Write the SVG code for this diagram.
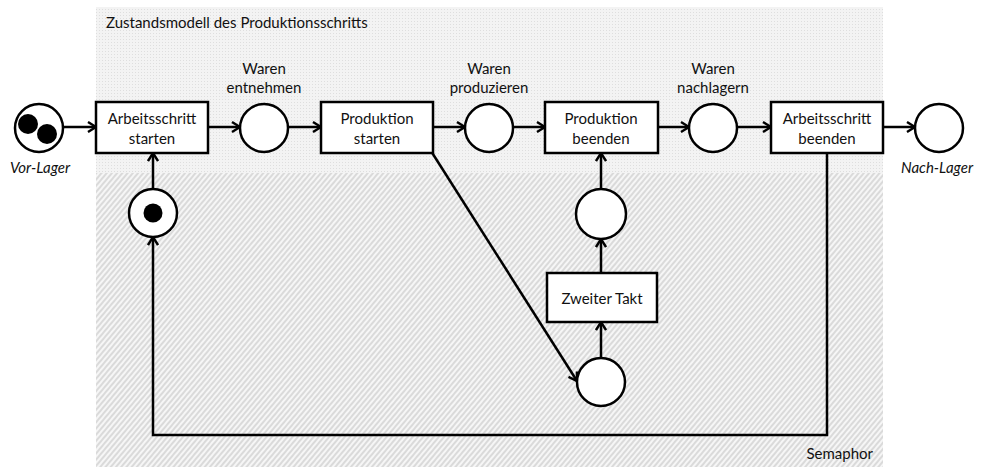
<svg xmlns="http://www.w3.org/2000/svg" width="983" height="467" viewBox="0 0 983 467">
<style>
  text { font-family: Lato, "Liberation Sans", sans-serif; font-size: 15px; fill: #111; text-anchor: middle; }
  .it { font-style: italic; }
  .box { fill: #fff; stroke: #000; stroke-width: 2.5; }
  .place { fill: #fff; stroke: #000; stroke-width: 2.5; }
  .tok { fill: #000; }
  .edge { fill: none; stroke: #000; stroke-width: 2.5; marker-end: url(#arr); }
  .line { fill: none; stroke: #000; stroke-width: 2.5; }
</style>
<defs>
  <pattern id="dots" width="3" height="3" patternUnits="userSpaceOnUse">
    <rect width="3" height="3" fill="#f3f3f3"/>
    <rect width="1" height="1" fill="#dedede"/>
  </pattern>
  <pattern id="hatch" width="4" height="4" patternUnits="userSpaceOnUse" patternTransform="rotate(40)">
    <rect width="4" height="4" fill="#f6f6f6"/>
    <line x1="1" y1="0" x2="1" y2="4" stroke="#cfcfcf" stroke-width="1.4"/>
  </pattern>
  <marker id="arr" viewBox="0 0 12 12" refX="11" refY="6" markerWidth="12" markerHeight="12" markerUnits="userSpaceOnUse" orient="auto">
    <path d="M3,1 L11,6 L3,11" fill="none" stroke="#000" stroke-width="2.4"/>
  </marker>
</defs>

<g id="background">
  <rect x="96" y="7" width="787" height="166" fill="url(#dots)"/>
  <rect x="96" y="173" width="787" height="294" fill="url(#hatch)"/>
  <text x="106" y="28" style="text-anchor:start">Zustandsmodell des Produktionsschritts</text>
  <text x="873" y="459" style="text-anchor:end">Semaphor</text>
</g>

<g id="connectors">
  <line class="edge" x1="63" y1="127" x2="96" y2="127"/>
  <line class="edge" x1="208" y1="127" x2="240" y2="127"/>
  <line class="edge" x1="288" y1="127" x2="321" y2="127"/>
  <line class="edge" x1="433" y1="127" x2="465" y2="127"/>
  <line class="edge" x1="513" y1="127" x2="545" y2="127"/>
  <line class="edge" x1="658" y1="127" x2="689" y2="127"/>
  <line class="edge" x1="737" y1="127" x2="771" y2="127"/>
  <line class="edge" x1="883" y1="127" x2="915" y2="127"/>
  <line class="edge" x1="153" y1="188" x2="153" y2="153"/>
  <path class="edge" d="M827,153 V435 H153 V237"/>
  <line class="edge" x1="601" y1="189" x2="601" y2="153"/>
  <line class="edge" x1="601" y1="273" x2="601" y2="239"/>
  <line class="edge" x1="601" y1="358" x2="601" y2="322"/>
  <line class="edge" x1="431" y1="151" x2="577" y2="381"/>
</g>

<g id="vor-lager">
  <circle class="place" cx="39" cy="128" r="24"/>
  <circle class="tok" cx="28" cy="124" r="10"/>
  <circle class="tok" cx="47" cy="134" r="10"/>
  <text class="it" x="40" y="173">Vor-Lager</text>
</g>

<g id="arbeitsschritt-starten">
  <rect class="box" x="96" y="102" width="112" height="51"/>
  <text x="152" y="124">Arbeitsschritt</text>
  <text x="152" y="144">starten</text>
</g>

<g id="waren-entnehmen">
  <circle class="place" cx="264" cy="128" r="24"/>
  <text x="264" y="74">Waren</text>
  <text x="264" y="93">entnehmen</text>
</g>

<g id="produktion-starten">
  <rect class="box" x="321" y="102" width="112" height="51"/>
  <text x="377" y="124">Produktion</text>
  <text x="377" y="144">starten</text>
</g>

<g id="waren-produzieren">
  <circle class="place" cx="489" cy="128" r="24"/>
  <text x="489" y="74">Waren</text>
  <text x="489" y="93">produzieren</text>
</g>

<g id="produktion-beenden">
  <rect class="box" x="545" y="102" width="113" height="51"/>
  <text x="601" y="124">Produktion</text>
  <text x="601" y="144">beenden</text>
</g>

<g id="waren-nachlagern">
  <circle class="place" cx="713" cy="128" r="24"/>
  <text x="713" y="74">Waren</text>
  <text x="713" y="93">nachlagern</text>
</g>

<g id="arbeitsschritt-beenden">
  <rect class="box" x="771" y="102" width="112" height="51"/>
  <text x="827" y="124">Arbeitsschritt</text>
  <text x="827" y="144">beenden</text>
</g>

<g id="nach-lager">
  <circle class="place" cx="939" cy="128" r="24"/>
  <text class="it" x="937" y="173">Nach-Lager</text>
</g>

<g id="semaphor-place">
  <circle class="place" cx="153" cy="213" r="24"/>
  <circle class="tok" cx="153" cy="213" r="9.5"/>
</g>

<g id="takt-place-oben">
  <ellipse class="place" cx="601" cy="214" rx="25" ry="25"/>
</g>

<g id="zweiter-takt">
  <rect class="box" x="547" y="273" width="110" height="49"/>
  <text x="602" y="304">Zweiter Takt</text>
</g>

<g id="takt-place-unten">
  <circle class="place" cx="601" cy="382" r="24"/>
</g>
</svg>
